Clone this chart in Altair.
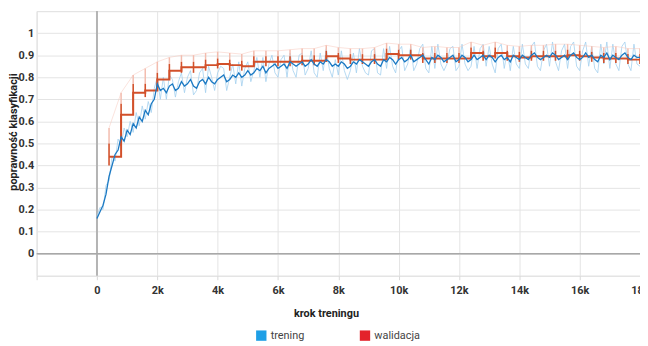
import altair as alt
import pandas as pd

# ---- training accuracy (every 100 steps, 0 .. 18000) ----
train_smooth = [
    0.16, 0.19, 0.22, 0.27, 0.35, 0.40, 0.45, 0.47, 0.53, 0.51,
    0.56, 0.54, 0.59, 0.57, 0.62, 0.60, 0.65, 0.63, 0.68, 0.70,
    0.77, 0.74, 0.75, 0.73, 0.76, 0.77, 0.74, 0.75, 0.78, 0.76,
    0.77, 0.79, 0.76, 0.75, 0.78, 0.79, 0.77, 0.80, 0.78, 0.77,
    0.79, 0.80, 0.81, 0.78, 0.79, 0.81, 0.80, 0.82, 0.80, 0.81,
    0.83, 0.81, 0.82, 0.84, 0.83, 0.85, 0.82, 0.84, 0.85, 0.86,
    0.84, 0.85, 0.86, 0.84, 0.87, 0.86, 0.85, 0.86, 0.87, 0.85,
    0.86, 0.88, 0.86, 0.85, 0.87, 0.86, 0.88, 0.87, 0.85, 0.86,
    0.85, 0.87, 0.86, 0.84, 0.85, 0.87, 0.86, 0.88, 0.87, 0.86,
    0.85, 0.87, 0.88, 0.86, 0.85, 0.88, 0.87, 0.89, 0.88, 0.86,
    0.88, 0.89, 0.87, 0.88, 0.90, 0.87, 0.88, 0.89, 0.90, 0.88,
    0.86, 0.89, 0.88, 0.90, 0.89, 0.87, 0.88, 0.89, 0.90, 0.87,
    0.88, 0.90, 0.89, 0.87, 0.88, 0.90, 0.88, 0.89, 0.90, 0.88,
    0.90, 0.89, 0.87, 0.89, 0.90, 0.88, 0.89, 0.87, 0.90, 0.89,
    0.88, 0.90, 0.89, 0.88, 0.90, 0.91, 0.89, 0.88, 0.89, 0.90,
    0.89, 0.91, 0.90, 0.88, 0.89, 0.90, 0.88, 0.90, 0.91, 0.89,
    0.88, 0.89, 0.91, 0.89, 0.90, 0.88, 0.87, 0.90, 0.89, 0.91,
    0.88, 0.90, 0.89, 0.88, 0.90, 0.91, 0.89, 0.88, 0.90, 0.89,
    0.89,
]
train_raw = [
    0.17, 0.21, 0.20, 0.31, 0.33, 0.44, 0.42, 0.52, 0.49, 0.57,
    0.53, 0.60, 0.55, 0.64, 0.58, 0.67, 0.61, 0.69, 0.64, 0.75,
    0.80, 0.70, 0.80, 0.70, 0.81, 0.79, 0.71, 0.78, 0.82, 0.73,
    0.80, 0.83, 0.72, 0.74, 0.82, 0.84, 0.73, 0.85, 0.80, 0.74,
    0.82, 0.85, 0.84, 0.74, 0.80, 0.86, 0.77, 0.87, 0.76, 0.84,
    0.87, 0.78, 0.83, 0.89, 0.80, 0.89, 0.78, 0.86, 0.90, 0.82,
    0.80, 0.88, 0.90, 0.80, 0.91, 0.83, 0.80, 0.90, 0.91, 0.81,
    0.84, 0.92, 0.82, 0.80, 0.91, 0.83, 0.93, 0.84, 0.80, 0.88,
    0.81, 0.92, 0.83, 0.79, 0.83, 0.91, 0.82, 0.93, 0.85, 0.82,
    0.81, 0.92, 0.93, 0.82, 0.81, 0.93, 0.84, 0.94, 0.85, 0.82,
    0.92, 0.94, 0.83, 0.86, 0.94, 0.83, 0.86, 0.93, 0.95, 0.84,
    0.82, 0.94, 0.84, 0.95, 0.86, 0.83, 0.86, 0.93, 0.94, 0.83,
    0.85, 0.95, 0.86, 0.83, 0.85, 0.94, 0.84, 0.93, 0.95, 0.85,
    0.94, 0.86, 0.82, 0.93, 0.95, 0.84, 0.92, 0.83, 0.94, 0.86,
    0.84, 0.95, 0.86, 0.84, 0.94, 0.96, 0.85, 0.83, 0.92, 0.95,
    0.85, 0.96, 0.87, 0.83, 0.92, 0.95, 0.84, 0.94, 0.96, 0.85,
    0.83, 0.92, 0.96, 0.85, 0.94, 0.84, 0.82, 0.95, 0.86, 0.96,
    0.84, 0.95, 0.86, 0.83, 0.94, 0.96, 0.86, 0.83, 0.95, 0.86,
    0.85,
]
train_steps = [i * 100 for i in range(len(train_smooth))]

# ---- validation accuracy (every 400 steps) ----
val_steps = list(range(400, 18001, 400))
val_line = [
    0.44, 0.63, 0.73, 0.74, 0.79, 0.83, 0.845, 0.845, 0.855, 0.86,
    0.855, 0.85, 0.87, 0.87, 0.87, 0.87, 0.875, 0.875, 0.895, 0.885,
    0.88, 0.88, 0.88, 0.905, 0.90, 0.90, 0.885, 0.885, 0.885, 0.885,
    0.91, 0.895, 0.91, 0.895, 0.89, 0.895, 0.895, 0.895, 0.90, 0.895,
    0.89, 0.885, 0.885, 0.88, 0.88,
]
val_lo = [
    0.40, 0.49, 0.65, 0.71, 0.74, 0.79, 0.82, 0.82, 0.83, 0.84,
    0.83, 0.83, 0.85, 0.85, 0.85, 0.85, 0.855, 0.855, 0.87, 0.865,
    0.86, 0.86, 0.86, 0.88, 0.88, 0.88, 0.865, 0.865, 0.865, 0.865,
    0.885, 0.875, 0.885, 0.875, 0.87, 0.875, 0.875, 0.875, 0.88, 0.875,
    0.87, 0.865, 0.865, 0.86, 0.86,
]
val_hi = [
    0.50, 0.68, 0.77, 0.77, 0.82, 0.86, 0.87, 0.87, 0.88, 0.885,
    0.88, 0.875, 0.895, 0.895, 0.895, 0.895, 0.90, 0.90, 0.92, 0.91,
    0.905, 0.905, 0.905, 0.93, 0.925, 0.925, 0.91, 0.91, 0.91, 0.91,
    0.935, 0.92, 0.935, 0.92, 0.915, 0.92, 0.92, 0.92, 0.925, 0.92,
    0.915, 0.91, 0.91, 0.905, 0.905,
]
val_top = [
    0.57, 0.73, 0.81, 0.84, 0.87, 0.89, 0.90, 0.90, 0.91, 0.915,
    0.91, 0.905, 0.92, 0.92, 0.92, 0.925, 0.93, 0.93, 0.945, 0.935,
    0.93, 0.93, 0.935, 0.955, 0.95, 0.95, 0.935, 0.94, 0.935, 0.935,
    0.96, 0.945, 0.96, 0.945, 0.94, 0.945, 0.945, 0.95, 0.95, 0.945,
    0.94, 0.935, 0.94, 0.93, 0.93,
]

x_ticks = list(range(-2000, 18001, 2000))
y_ticks = [round(-0.1 + 0.1 * i, 1) for i in range(13)]
legend_names = ["trening", "walidacja"]
legend_colors = ["#1e9fe6", "#e3232b"]

FONT = "Liberation Sans Narrow, Roboto, sans-serif"

train = pd.DataFrame({"step": train_steps, "smooth": train_smooth, "raw": train_raw})
val = pd.DataFrame({"step": val_steps, "v": val_line, "lo": val_lo, "hi": val_hi, "top": val_top})
zero_df = pd.DataFrame({"z": [0]})
leg_df = pd.DataFrame({"series": legend_names})

xs = alt.Scale(domain=[-2000, 18000], nice=False, zero=False)
ys = alt.Scale(domain=[-0.1, 1.1], nice=False, zero=False)

x_axis = alt.Axis(
    values=x_ticks, grid=True, gridColor="#e4e4e4", domain=False,
    tickColor="#d8d8d8", tickSize=4, labelPadding=5, labelFlush=False,
    labelExpr="datum.value < 0 ? '' : (datum.value == 0 ? '0' : format(datum.value / 1000, 'd') + 'k')",
    labelFont=FONT, labelFontSize=11, labelFontWeight="bold", labelColor="#333",
    titleFont=FONT, titleFontSize=11, titleFontWeight="bold", titleColor="#222",
    titlePadding=12, titleX=293,
)
y_axis = alt.Axis(
    values=y_ticks, grid=True, gridColor="#e4e4e4", domain=False, ticks=False,
    labelPadding=3, labelFlush=False,
    labelExpr="(datum.value < -0.05 || datum.value > 1.05) ? '' : format(datum.value, '~g')",
    labelFont=FONT, labelFontSize=11, labelFontWeight="bold", labelColor="#333",
    titleFont=FONT, titleFontSize=11, titleFontWeight="bold", titleColor="#222",
    titleX=-18, titleY=122, titleBaseline="bottom",
)

X = lambda f: alt.X(f"{f}:Q", scale=xs, axis=x_axis, title="krok treningu")
Y = lambda f: alt.Y(f"{f}:Q", scale=ys, axis=y_axis, title="poprawność klasyfikacji")

zero_v = alt.Chart(zero_df).mark_rule(color="#b4b4b4", strokeWidth=2).encode(x=X("z"))
zero_h = alt.Chart(zero_df).mark_rule(color="#a8a8a8", strokeWidth=1.5).encode(y=Y("z"))

blue_raw = alt.Chart(train).mark_line(color="#a3d0ee", strokeWidth=1, opacity=0.8).encode(
    x=X("step"), y=Y("raw"))
red_light_line = alt.Chart(val).mark_line(color="#f6c6ba", strokeWidth=1, opacity=0.5).encode(
    x=X("step"), y=Y("top"))
red_light_rule = alt.Chart(val).mark_rule(color="#f3bcae", strokeWidth=1.5).encode(
    x=X("step"), y=Y("hi"), y2="top")
red_dark = alt.Chart(val).mark_line(color="#d2502a", strokeWidth=2, interpolate="step-after").encode(
    x=X("step"), y=Y("v"))
red_dark_rule = alt.Chart(val).mark_rule(color="#d2502a", strokeWidth=1.6).encode(
    x=X("step"), y=Y("lo"), y2="hi")
blue_dark = alt.Chart(train).mark_line(color="#1b79c3", strokeWidth=1.3).encode(
    x=X("step"), y=Y("smooth"))

legend_layer = alt.Chart(leg_df).mark_square(opacity=0, size=1).encode(
    color=alt.Color(
        "series:N",
        scale=alt.Scale(domain=legend_names, range=legend_colors),
        legend=alt.Legend(
            title=None, orient="none", legendX=222, legendY=323,
            direction="horizontal", symbolType="square", symbolSize=110,
            symbolOpacity=1, symbolStrokeWidth=0, columnPadding=55,
            labelFont=FONT, labelFontSize=11, labelColor="#444", labelOffset=4,
        ),
    )
)

chart = alt.layer(
    zero_v, zero_h, blue_raw, red_light_line, red_light_rule,
    red_dark, red_dark_rule, blue_dark, legend_layer,
).properties(
    width=611, height=268,
    autosize=alt.AutoSizeParams(type="none"),
    padding={"left": 29, "top": 1, "right": 0, "bottom": 69},
).configure_view(stroke=None).configure(background="white")

chart.save("out.html", embed_options={"renderer": "svg", "actions": False})
